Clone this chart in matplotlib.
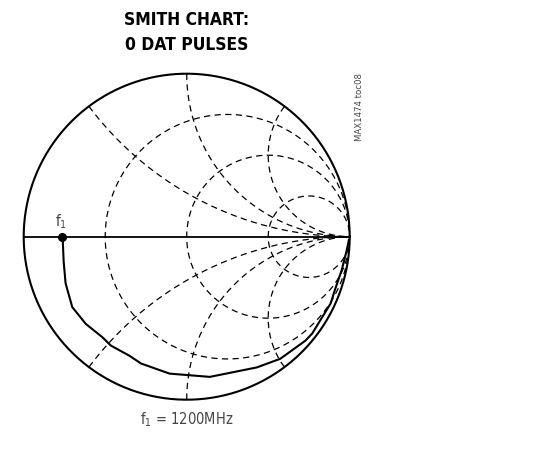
import numpy as np
import matplotlib
matplotlib.use("Agg")
import matplotlib.pyplot as plt
from matplotlib import font_manager

gamma_re = [-0.764, -0.760, -0.755, -0.743, -0.702, -0.619, -0.517, -0.465, -0.352, -0.280,
            -0.105, 0.142, 0.430, 0.574, 0.728, 0.770, 0.831, 0.883, 0.909, 0.951,
            0.982, 0.995]
gamma_im = [0.0, -0.030, -0.150, -0.286, -0.432, -0.535, -0.617, -0.668, -0.730, -0.778,
            -0.840, -0.860, -0.802, -0.749, -0.638, -0.594, -0.494, -0.410, -0.327,
            -0.205, -0.082, -0.020]

# grid values of the chart
r_circles = [1 / 3, 1, 3]
x_arcs = [0.5, 1, 2]

title_lines = ["SMITH CHART:", "0 DAT PULSES"]
note = r"$\mathregular{f_1}$ = 1200MHz"
marker_label = r"$\mathregular{f_1}$"
side_label = "MAX1474 toc08"

names = {f.name for f in font_manager.fontManager.ttflist}
narrow = 'Liberation Sans Narrow' if 'Liberation Sans Narrow' in names else 'DejaVu Sans'

plt.rcParams['font.family'] = [narrow, 'DejaVu Sans']
plt.rcParams['font.stretch'] = 'condensed'
plt.rcParams['mathtext.fontset'] = 'custom'
plt.rcParams['mathtext.rm'] = narrow + ':stretch=condensed'

W, H = 551, 454
fig = plt.figure(figsize=(W / 100, H / 100), dpi=100)

# circle center at (186.7, 236.7) px, radius 163 px
cx, cy, R = 186.7, 236.7, 163.0
ax = fig.add_axes([(cx - R) / W, (H - cy - R) / H, 2 * R / W, 2 * R / H])
ax.set_xlim(-1, 1)
ax.set_ylim(-1, 1)
ax.set_aspect('equal')
ax.axis('off')

dash = dict(color='black', lw=0.9, linestyle=(0, (5, 3.5)))

# resistance circles
t = np.tan(np.linspace(-np.pi / 2 + 1e-4, np.pi / 2 - 1e-4, 2000))
for r in r_circles:
    z = r + 1j * t
    g = (z - 1) / (z + 1)
    ax.plot(g.real, g.imag, **dash)

# reactance arcs
rr = np.concatenate([np.linspace(0, 1, 400), np.logspace(0, 4, 600)])
for x in x_arcs:
    for s in (1, -1):
        z = rr + 1j * s * x
        g = (z - 1) / (z + 1)
        ax.plot(g.real, g.imag, **dash)

# outer circle and real axis
th = np.linspace(0, 2 * np.pi, 600)
ax.plot(np.cos(th), np.sin(th), color='black', lw=1.5, clip_on=False)
ax.plot([-1, 1], [0, 0], color='black', lw=1.3, clip_on=False)

# measured curve
ax.plot(gamma_re, gamma_im, color='black', lw=1.5, clip_on=False)
ax.plot(gamma_re[0], gamma_im[0], 'o', color='black', ms=5.5)
ax.annotate(marker_label, (gamma_re[0], gamma_im[0]), xytext=(-1, 4),
            textcoords='offset points', ha='center', va='bottom',
            fontsize=11, color='#444444')

for txt, ypx in zip(title_lines, [20, 45]):
    fig.text(cx / W, 1 - ypx / H, txt, ha='center', va='center', fontsize=12.5,
             fontweight='heavy')
fig.text(cx / W, 1 - 420 / H, note, ha='center', va='center', fontsize=10.5,
         color='#444444')
fig.text(359 / W, 1 - 107 / H, side_label, ha='center', va='center', fontsize=6.8,
         rotation=90, color='#444444')

fig.savefig('out.png', dpi=100)
